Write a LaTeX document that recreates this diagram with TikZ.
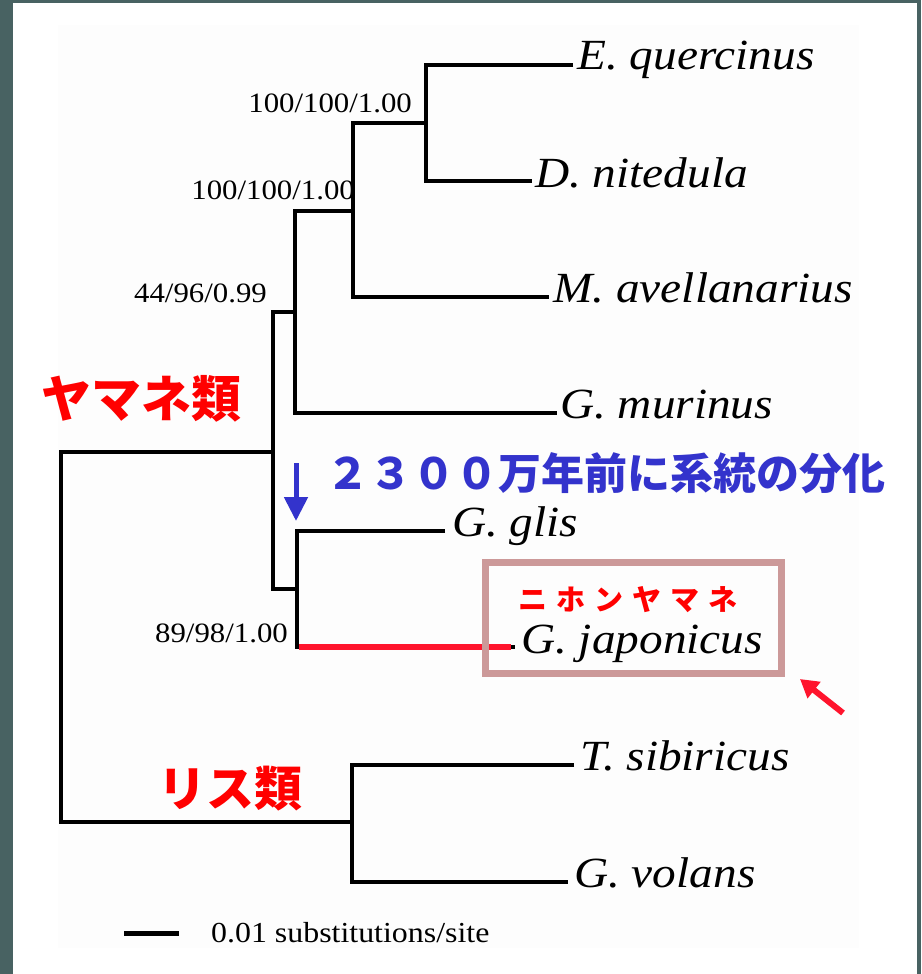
\documentclass[tikz,border=0pt]{standalone}
\usepackage{fontspec}
\setmainfont{Liberation Serif}[FakeStretch=1.1]
\newfontfamily\jp{Noto Sans CJK JP}
\usetikzlibrary{arrows.meta}
\definecolor{bgdark}{RGB}{72,98,98}
\definecolor{panel}{RGB}{253,253,253}
\definecolor{jpred}{RGB}{255,0,0}
\definecolor{lnred}{RGB}{255,20,45}
\definecolor{jpblue}{RGB}{51,51,204}
\definecolor{boxc}{RGB}{204,153,153}
\newcommand{\spc}{\hspace{9pt}}
\begin{document}
\begin{tikzpicture}[x=1pt,y=-1pt,
  br/.style={line width=4pt, line join=miter, black},
  sp/.style={inner sep=0pt, anchor=base west, font=\fontsize{43}{43}\selectfont\itshape},
  bs/.style={inner sep=0pt, anchor=base east, font=\fontsize{28}{28}\selectfont},
  jplabel/.style={inner sep=0pt, font=\jp\bfseries\fontsize{50}{50}\selectfont, text=jpred}]
\useasboundingbox (0,0) rectangle (921,974);
\fill[bgdark] (0,0) rectangle (921,974);
\fill[white] (13,3) rectangle (917,974);
\fill[panel] (58,25) rectangle (859,948);

% support values
\node[bs] (bs1) at (412,112) {100/100/1.00};
\node[bs] (bs2) at (355,199) {100/100/1.00};
\node[bs] (bs3) at (267,302) {44/96/0.99};
\node[bs] (bs4) at (288,642) {89/98/1.00};

% species
\node[sp] (eq) at (577,70) {E. quercinus};
\node[sp] (dn) at (535,187) {D. nitedula};
\node[sp] (ma) at (553,302) {M. avellanarius};
\node[sp] (gm) at (560,418) {G. murinus};
\node[sp] (gg) at (452,536) {G. glis};
\node[sp] (gj) at (521,653) {G. japonicus};
\node[sp] (ts) at (580,770) {T. sibiricus};
\node[sp] (gv) at (574,887) {G. volans};

% tree coordinates
\coordinate (eqE) at (573,65);  \coordinate (dnE) at (532,181);
\coordinate (maE) at (549,297); \coordinate (gmE) at (557,413);
\coordinate (ggE) at (445,531); \coordinate (gjE) at (515,647);
\coordinate (tsE) at (574,765); \coordinate (gvE) at (568,882);
\coordinate (nA) at (426,123);
\coordinate (nB) at (353,211);
\coordinate (nC) at (295,312);
\coordinate (nD) at (273,452);
\coordinate (nE) at (273,589);
\coordinate (nF) at (352,822);
\coordinate (root) at (61,452);

\draw[br] (eqE) -- (nA |- eqE) -- (nA |- dnE) -- (dnE);
\draw[br] (nA) -- (nB |- nA) -- (nB |- maE) -- (maE);
\draw[br] (nB) -- (nC |- nB) -- (nC |- gmE) -- (gmE);
\draw[br] (nC) -- (nD |- nC) -- (nD |- nE) -- (297,589);
\draw[br] (ggE) -- (297,531) -- (297,647) -- (gjE);
\draw[br] (nD) -- (root) -- (root |- nF) -- (nF);
\draw[br] (tsE) -- (nF |- tsE) -- (nF |- gvE) -- (gvE);
\draw[lnred, line width=6pt] (299,647) -- (511,647);

% scale bar
\coordinate (sb1) at (124,933); \coordinate (sb2) at (179,933);
\draw[line width=5pt] (sb1) -- (sb2);
\node[inner sep=0pt, anchor=base west, font=\fontsize{29}{29}\selectfont] (sbt) at (211,942) {0.01 substitutions/site};

% highlight box
\draw[boxc, line width=7pt] (485,562) rectangle (781,673);
\node[inner sep=0pt, font=\jp\bfseries\fontsize{29}{29}\selectfont, text=jpred] (nihon) at (628,600) {ニ\spc ホ\spc ン\spc ヤ\spc マ\spc ネ};

% Japanese labels
\node[jplabel] (yamane) at (141,399) {ヤマネ類};
\node[jplabel, font=\jp\bfseries\fontsize{48}{48}\selectfont] (risu) at (230,789) {リス類};
\node[inner sep=0pt, font=\jp\bfseries\fontsize{43}{43}\selectfont, text=jpblue] (bunka) at (606,473) {２３００万年前に系統の分化};

% arrows
\coordinate (ba1) at (296,463); \coordinate (ba2) at (296,521);
\draw[jpblue, line width=5pt, -{Triangle[width=23pt,length=24pt]}] (ba1) -- (ba2);
\coordinate (ra1) at (843,713); \coordinate (ra2) at (800,679);
\draw[lnred, line width=6pt, -{Triangle[width=20pt,length=18pt]}] (ra1) -- (ra2);
\end{tikzpicture}
\end{document}
